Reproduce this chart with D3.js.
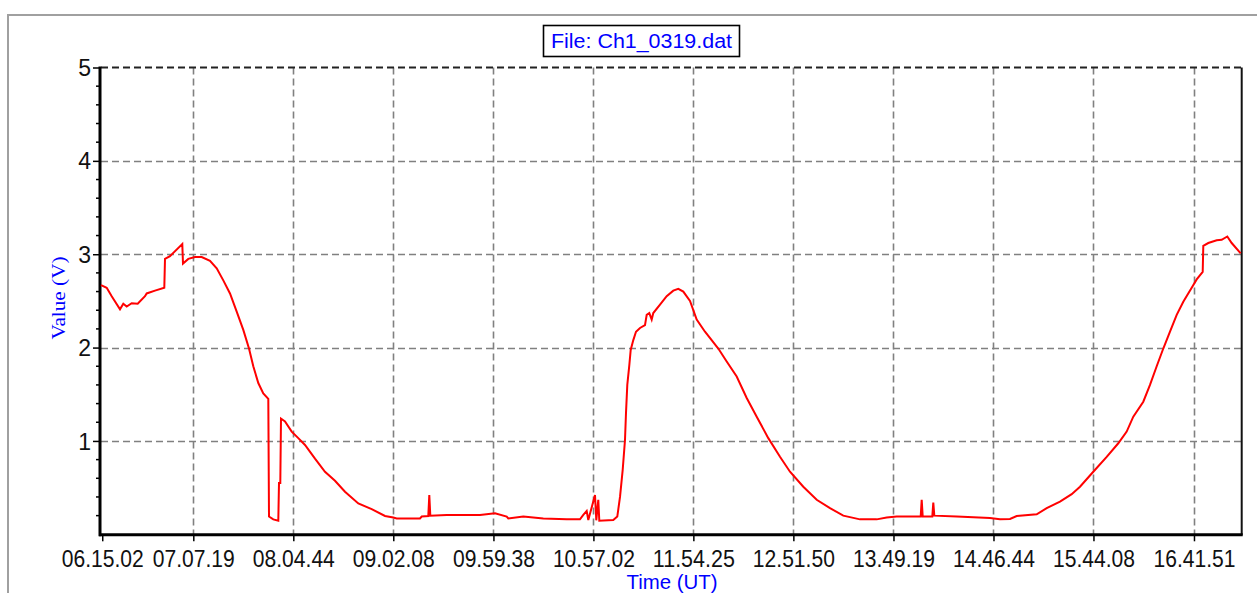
<!DOCTYPE html>
<html>
<head>
<meta charset="utf-8">
<script src="https://cdn.jsdelivr.net/npm/d3@7"></script>
<style>
  html, body { margin: 0; padding: 0; background: #ffffff; }
  svg { display: block; }
</style>
</head>
<body>
<svg id="chart" width="1257" height="593"></svg>
<script>
// ---- data ----
const titleText = "File: Ch1_0319.dat";
const xAxisTitle = "Time (UT)";
const yAxisTitle = "Value (V)";
const xTickLabels = ["06.15.02","07.07.19","08.04.44","09.02.08","09.59.38","10.57.02",
                     "11.54.25","12.51.50","13.49.19","14.46.44","15.44.08","16.41.51"];
const yTickValues = [1, 2, 3, 4, 5];
const timeDomain = [6.2387, 17.1541];   // hours UT
const valueDomain = [0, 5];              // volts

// time in decimal hours (UT)
const timeHours = [
  6.2387, 6.2932, 6.3411, 6.4205, 6.4521, 6.4846, 6.5324, 6.5899, 6.6597, 6.6760,
  6.7554, 6.8444, 6.8511, 6.8989, 7.0166, 7.0233, 7.0741, 7.1382, 7.2023, 7.2817,
  7.3458, 7.4090, 7.4731, 7.5372, 7.6004, 7.6549, 7.6960, 7.7439, 7.7917, 7.8396,
  7.8463, 7.8874, 7.9353, 7.9420, 7.9544, 7.9611, 7.9994, 8.0635, 8.1266, 8.1908,
  8.2865, 8.3821, 8.4778, 8.5735, 8.7008, 8.8290, 8.9563, 9.0357, 9.0682, 9.2912,
  9.3075, 9.3706, 9.3802, 9.3898, 9.5467, 9.8653, 10.0089, 10.1208, 10.1361, 10.2797,
  10.4711, 10.6950, 10.8222, 10.8538, 10.8863, 10.9017, 10.9658, 10.9782, 10.9973, 11.0069,
  11.1409, 11.1792, 11.2051, 11.2308, 11.2528, 11.2624, 11.2748, 11.2940, 11.3074, 11.3323,
  11.3581, 11.3964, 11.4442, 11.4605, 11.4854, 11.5083, 11.5236, 11.5878, 11.6518, 11.7150,
  11.7629, 11.8107, 11.8749, 11.9389, 12.0184, 12.1456, 12.2260, 12.3217, 12.4174, 12.5131,
  12.6241, 12.7360, 12.8317, 12.9590, 13.0872, 13.2145, 13.3418, 13.5016, 13.6614, 13.7571,
  13.8527, 14.0824, 14.0920, 14.1016, 14.1934, 14.2030, 14.2126, 14.4269, 14.7455, 14.8412,
  14.9369, 15.0010, 15.1924, 15.2881, 15.4154, 15.5273, 15.6067, 15.7340, 15.8622, 15.9732,
  16.0536, 16.1168, 16.2125, 16.2766, 16.3407, 16.4038, 16.4680, 16.5321, 16.5952, 16.6756,
  16.7234, 16.7809, 16.7866, 16.8344, 16.9148, 16.9627, 17.0163, 17.0584, 17.1445
];
// value in volts
const volts = [
  2.67, 2.64, 2.55, 2.41, 2.47, 2.44, 2.475, 2.47, 2.55, 2.58,
  2.61, 2.64, 2.95, 2.98, 3.11, 2.90, 2.95, 2.97, 2.97, 2.93,
  2.85, 2.72, 2.58, 2.385, 2.19, 1.99, 1.80, 1.62, 1.51, 1.45,
  0.19, 0.16, 0.146, 0.55, 0.55, 1.24, 1.21, 1.10, 1.03, 0.957,
  0.81, 0.67, 0.574, 0.456, 0.33, 0.27, 0.196, 0.18, 0.17, 0.17,
  0.19, 0.196, 0.42, 0.20, 0.207, 0.207, 0.225, 0.19, 0.17, 0.19,
  0.17, 0.16, 0.16, 0.207, 0.25, 0.153, 0.42, 0.15, 0.37, 0.146,
  0.153, 0.19, 0.40, 0.69, 1.01, 1.30, 1.60, 1.81, 1.975, 2.08,
  2.17, 2.21, 2.24, 2.35, 2.37, 2.30, 2.37, 2.46, 2.55, 2.61,
  2.63, 2.60, 2.50, 2.30, 2.17, 1.99, 1.85, 1.69, 1.46, 1.26,
  1.03, 0.83, 0.67, 0.51, 0.37, 0.28, 0.20, 0.16, 0.16, 0.18,
  0.19, 0.19, 0.37, 0.19, 0.19, 0.34, 0.20, 0.19, 0.175, 0.16,
  0.164, 0.196, 0.214, 0.28, 0.35, 0.43, 0.51, 0.67, 0.83, 0.975,
  1.10, 1.26, 1.42, 1.60, 1.80, 1.99, 2.17, 2.35, 2.49, 2.64,
  2.73, 2.81, 3.09, 3.12, 3.15, 3.155, 3.19, 3.12, 3.01
];

// ---- layout ----
const plot = { left: 101, right: 1241.7, top: 67.5, bottom: 534.3 };
const toHours = s => { const [h, m, sec] = s.split('.').map(Number); return h + m / 60 + sec / 3600; };

const svg = d3.select("#chart");
const x = d3.scaleLinear().domain(timeDomain).range([plot.left, plot.right]);
const y = d3.scaleLinear().domain(valueDomain).range([plot.bottom, plot.top]);

// outer frame
svg.append("rect")
  .attr("x", 8).attr("y", 15).attr("width", 1262).attr("height", 600)
  .attr("fill", "#ffffff").attr("stroke", "#a0a0a0").attr("stroke-width", 2);

// grid
const xTickVals = xTickLabels.map(toHours);
const gridColor = "#808080";
svg.append("g").selectAll("line.vg").data(xTickVals.slice(1)).join("line")
  .attr("x1", d => Math.round(x(d)) + 0.5).attr("x2", d => Math.round(x(d)) + 0.5)
  .attr("y1", plot.top).attr("y2", plot.bottom)
  .attr("stroke", gridColor).attr("stroke-width", 1.6).attr("stroke-dasharray", "7,4");
svg.append("g").selectAll("line.hg").data(yTickValues.filter(v => v < 5)).join("line")
  .attr("x1", plot.left).attr("x2", plot.right)
  .attr("y1", d => Math.round(y(d)) + 0.5).attr("y2", d => Math.round(y(d)) + 0.5)
  .attr("stroke", gridColor).attr("stroke-width", 1.6).attr("stroke-dasharray", "7,4");
// top border (dashed dark)
svg.append("line")
  .attr("x1", plot.left).attr("x2", plot.right)
  .attr("y1", y(5)).attr("y2", y(5))
  .attr("stroke", "#222").attr("stroke-width", 1.8).attr("stroke-dasharray", "7,4");
// right border
svg.append("line")
  .attr("x1", plot.right).attr("x2", plot.right)
  .attr("y1", plot.top).attr("y2", plot.bottom + 1)
  .attr("stroke", "#111").attr("stroke-width", 2);

// y axis
const yAxis = d3.axisLeft(y).tickValues(yTickValues).tickSize(7).tickPadding(4)
  .tickFormat(d3.format("d"));
const gy = svg.append("g").attr("transform", `translate(${plot.left - 1},0)`).call(yAxis);
gy.select(".domain").remove();
gy.selectAll(".tick line").attr("stroke", "#000").attr("stroke-width", 1.5);
gy.selectAll(".tick text")
  .attr("font-family", "Liberation Sans, Arial, sans-serif")
  .attr("font-size", 23).attr("fill", "#111").attr("x", -9).attr("dy", "0.35em");
// minor ticks every 0.2 V
const minorVals = d3.range(0, 5.0001, 0.2).filter(v => Math.abs(v - Math.round(v)) > 1e-6);
svg.append("g").selectAll("line").data(minorVals).join("line")
  .attr("x1", plot.left - 5).attr("x2", plot.left - 1)
  .attr("y1", d => y(d)).attr("y2", d => y(d))
  .attr("stroke", "#000").attr("stroke-width", 1.5);

// x axis
const xAxis = d3.axisBottom(x).tickValues(xTickVals).tickSize(7).tickPadding(4)
  .tickFormat((d, i) => xTickLabels[i]);
const gx = svg.append("g").attr("transform", `translate(0,${plot.bottom})`).call(xAxis);
gx.select(".domain").remove();
gx.selectAll(".tick line").attr("stroke", "#000").attr("stroke-width", 1.5);
gx.selectAll(".tick text")
  .attr("font-family", "Liberation Sans, Arial, sans-serif")
  .attr("font-size", 24).attr("fill", "#111")
  .attr("y", 33).attr("dy", 0)
  .attr("textLength", 82).attr("lengthAdjust", "spacingAndGlyphs");

// thick axis lines
svg.append("line")
  .attr("x1", plot.left - 1).attr("x2", plot.left - 1)
  .attr("y1", plot.top - 1).attr("y2", plot.bottom + 2)
  .attr("stroke", "#000").attr("stroke-width", 3);
svg.append("line")
  .attr("x1", plot.left - 2).attr("x2", plot.right + 1)
  .attr("y1", plot.bottom + 0.5).attr("y2", plot.bottom + 0.5)
  .attr("stroke", "#000").attr("stroke-width", 3);

// data line
const line = d3.line().x((d, i) => x(timeHours[i])).y(d => y(d));
svg.append("path")
  .datum(volts)
  .attr("d", line)
  .attr("fill", "none").attr("stroke", "#ff0000").attr("stroke-width", 2)
  .attr("stroke-linejoin", "miter");

// title box
const titleCx = 641.5;
svg.append("rect")
  .attr("x", 543.5).attr("y", 25.5).attr("width", 196).attr("height", 31)
  .attr("fill", "#ffffff").attr("stroke", "#000").attr("stroke-width", 1.6);
svg.append("text")
  .attr("x", titleCx).attr("y", 48)
  .attr("text-anchor", "middle")
  .attr("font-family", "Liberation Sans, Arial, sans-serif")
  .attr("font-size", 20).attr("fill", "#0000ff")
  .attr("textLength", 181).attr("lengthAdjust", "spacingAndGlyphs")
  .text(titleText);

// axis titles
svg.append("text")
  .attr("x", 672).attr("y", 589)
  .attr("text-anchor", "middle")
  .attr("font-family", "Liberation Sans, Arial, sans-serif")
  .attr("font-size", 20).attr("fill", "#0000ff")
  .attr("textLength", 91).attr("lengthAdjust", "spacingAndGlyphs")
  .text(xAxisTitle);
svg.append("text")
  .attr("transform", "translate(65,298) rotate(-90)")
  .attr("text-anchor", "middle")
  .attr("font-family", "Liberation Serif, Times New Roman, serif")
  .attr("font-size", 19).attr("fill", "#0000ff")
  .attr("textLength", 83).attr("lengthAdjust", "spacingAndGlyphs")
  .text(yAxisTitle);
</script>
</body>
</html>
